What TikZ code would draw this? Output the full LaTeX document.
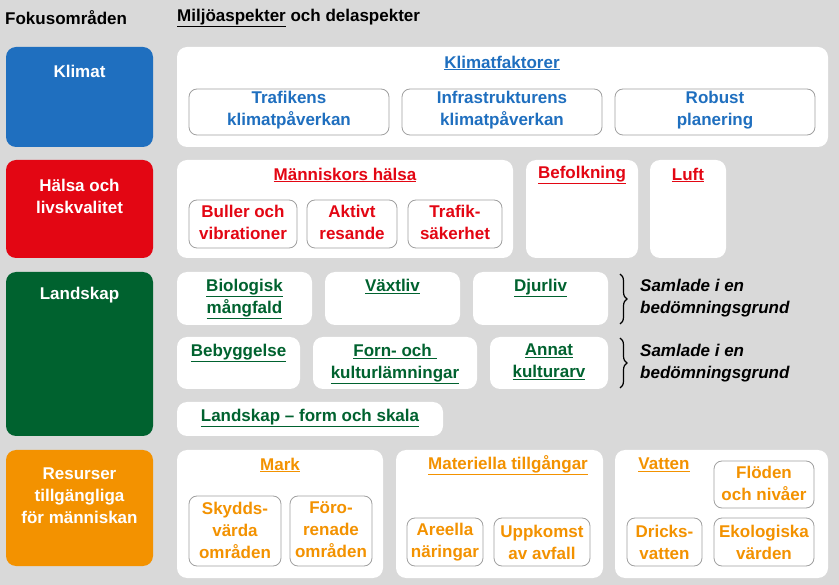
\documentclass[tikz,border=0pt]{standalone}
\usepackage{fontspec}
\setmainfont{Liberation Sans}
\usetikzlibrary{decorations.pathreplacing}
\definecolor{bg}{HTML}{D9D9D9}
\definecolor{cblue}{HTML}{1F6FBF}
\definecolor{cred}{HTML}{E30613}
\definecolor{cgreen}{HTML}{00622F}
\definecolor{corange}{HTML}{F39200}
\definecolor{cgray}{HTML}{A0A0A0}
\newcommand{\bx}[6][]{%
 \pgfmathsetmacro\cx{(#3+#5)/2}\pgfmathsetmacro\cy{(#4+#6)/2}%
 \pgfmathsetmacro\ww{#5-#3}\pgfmathsetmacro\hh{#6-#4}%
 \node[#1,minimum width=\ww pt,minimum height=\hh pt,inner sep=0pt] (#2) at (\cx,\cy) {};}
\newcommand{\tx}[5][]{\node[txt,#1] (#2) at (#3,#4) {#5};}
\begin{document}
\begin{tikzpicture}[x=1pt,y=-1pt,
 txt/.style={font=\fontsize{17}{22}\selectfont\bfseries,align=center,inner sep=0pt},
 focus/.style={rounded corners=10pt},
 panel/.style={fill=white,rounded corners=10pt},
 sub/.style={draw=cgray,fill=white,rounded corners=8pt,line width=0.8pt}]
\fill[bg] (0,0) rectangle (839,585);
\useasboundingbox (0,0) rectangle (839,585);
\tx[anchor=west]{h1}{5}{18}{Fokusområden}
\tx[anchor=west]{h2}{177}{18}{\underline{Miljöaspekter} och delaspekter}
% focus boxes
\bx[focus,fill=cblue]{f1}{6}{47}{153}{147}
\bx[focus,fill=cred]{f2}{6}{160}{153}{258}
\bx[focus,fill=cgreen]{f3}{6}{272}{153}{436}
\bx[focus,fill=corange]{f4}{6}{450}{153}{566}
\tx[white]{t1}{79.5}{71}{Klimat}
\tx[white]{t2}{79.5}{196}{Hälsa och\\livskvalitet}
\tx[white]{t3}{79.5}{295}{Landskap}
\tx[white]{t4}{79.5}{496}{Resurser\\tillgängliga\\för människan}
% Klimat
\bx[panel]{p1}{177}{47}{828}{147}
\tx[cblue]{k0}{502}{63}{\underline{Klimatfaktorer}}
\bx[sub]{k1}{189}{89}{389}{135}\tx[cblue]{k1t}{289}{110}{Trafikens\\klimatpåverkan}
\bx[sub]{k2}{402}{89}{602}{135}\tx[cblue]{k2t}{502}{110}{Infrastrukturens\\klimatpåverkan}
\bx[sub]{k3}{615}{89}{815}{135}\tx[cblue]{k3t}{715}{110}{Robust\\planering}
% Hälsa
\bx[panel]{p2}{177}{160}{513}{258}
\tx[cred]{h0}{345}{175}{\underline{Människors hälsa}}
\bx[sub]{h1b}{189}{200}{297}{248}\tx[cred]{h1t}{243}{222}{Buller och\\vibrationer}
\bx[sub]{h2b}{307}{200}{397}{248}\tx[cred]{h2t}{352}{222}{Aktivt\\resande}
\bx[sub]{h3b}{408}{200}{502}{248}\tx[cred]{h3t}{455}{222}{Trafik-\\säkerhet}
\bx[panel]{p3}{526}{160}{638}{258}\tx[cred]{b0}{582}{175}{\underline{Befolkning}}
\bx[panel]{p4}{650}{160}{726}{258}\tx[cred]{l0}{688}{175}{\underline{Luft}}
% Landskap
\bx[panel]{g1}{177}{272}{312}{325}\tx[cgreen,anchor=north]{g1t}{244.5}{279}{\underline{Biologisk}\\\underline{mångfald}}
\bx[panel]{g2}{325}{272}{460}{325}\tx[cgreen,anchor=north]{g2t}{392.5}{279}{\underline{Växtliv}}
\bx[panel]{g3}{473}{272}{608}{325}\tx[cgreen,anchor=north]{g3t}{540.5}{279}{\underline{Djurliv}}
\bx[panel]{g4}{177}{337}{300}{389}\tx[cgreen,anchor=north]{g4t}{238.5}{344}{\underline{Bebyggelse}}
\bx[panel]{g5}{313}{337}{477}{389}\tx[cgreen,anchor=north]{g5t}{395}{344}{\underline{Forn- och }\\\underline{kulturlämningar}}
\bx[panel]{g6}{490}{337}{608}{389}\tx[cgreen,anchor=north]{g6t}{549}{344}{\underline{Annat}\\\underline{kulturarv}}
\bx[panel]{g7}{177}{402}{443}{436}\tx[cgreen]{g7t}{310}{418}{\underline{Landskap – form och skala}}
\coordinate (br1a) at (620,274);\coordinate (br1b) at (620,324);
\coordinate (br2a) at (620,338);\coordinate (br2b) at (620,388);
\draw[line width=1.2pt,decorate,decoration={brace,amplitude=7pt}] (br1a) -- (br1b);
\draw[line width=1.2pt,decorate,decoration={brace,amplitude=7pt}] (br2a) -- (br2b);
\tx[anchor=west,font=\fontsize{17}{22}\selectfont\bfseries\itshape,align=left]{s1}{640}{298}{Samlade i en\\bedömningsgrund}
\tx[anchor=west,font=\fontsize{17}{22}\selectfont\bfseries\itshape,align=left]{s2}{640}{363}{Samlade i en\\bedömningsgrund}
% Resurser
\bx[panel]{r1}{177}{450}{383}{578}\tx[corange]{m0}{280}{465}{\underline{Mark}}
\bx[sub]{m1}{189}{496}{281}{566}\tx[corange]{m1t}{235}{530}{Skydds-\\värda\\områden}
\bx[sub]{m2}{290}{496}{372}{566}\tx[corange]{m2t}{331}{530}{Föro-\\renade\\områden}
\bx[panel]{r2}{396}{450}{603}{578}\tx[corange]{a0}{508}{465}{\underline{Materiella tillgångar}}
\bx[sub]{a1}{407}{518}{483}{566}\tx[corange]{a1t}{445}{542}{Areella\\näringar}
\bx[sub]{a2}{494}{518}{590}{566}\tx[corange]{a2t}{542}{542}{Uppkomst\\av avfall}
\bx[panel]{r3}{615}{450}{828}{578}\tx[corange]{v0}{664}{465}{\underline{Vatten}}
\bx[sub]{v1}{714}{461}{814}{508}\tx[corange]{v1t}{764}{483}{Flöden\\och nivåer}
\bx[sub]{v2}{627}{518}{702}{566}\tx[corange]{v2t}{664.5}{542}{Dricks-\\vatten}
\bx[sub]{v3}{714}{518}{814}{566}\tx[corange]{v3t}{764}{542}{Ekologiska\\värden}
\end{tikzpicture}
\end{document}
